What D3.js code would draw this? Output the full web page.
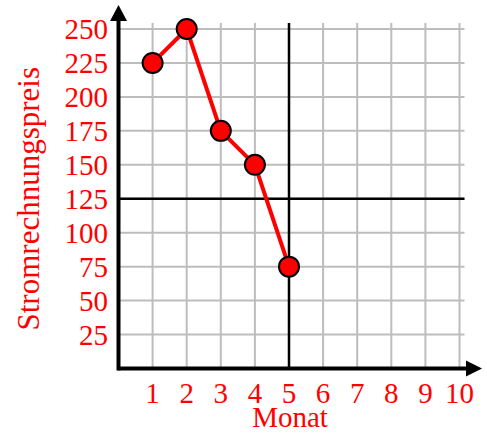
<!DOCTYPE html>
<html><head><meta charset="utf-8">
<script src="https://cdn.jsdelivr.net/npm/d3@7"></script>
<style>body{margin:0;background:#fff}</style>
</head><body>
<svg id="c" width="487" height="436"></svg>
<script>
const months = [1, 2, 3, 4, 5];
const prices = [225, 250, 175, 150, 75];
const xTicks = [1,2,3,4,5,6,7,8,9,10];
const yTicks = [25,50,75,100,125,150,175,200,225,250];
const xLabel = "Monat";
const yLabel = "Stromrechnungspreis";
const refX = 5, refY = 125;

const svg = d3.select("#c");
const x = d3.scaleLinear().domain([0, 10]).range([118.5, 459.5]);
const y = d3.scaleLinear().domain([0, 250]).range([368.5, 29]);
const font = "'Liberation Serif','Times New Roman',serif";

const g = svg.append("g");
// grid
g.selectAll(".vg").data(xTicks).join("line")
  .attr("x1", d => x(d)).attr("x2", d => x(d))
  .attr("y1", y(250) - 6).attr("y2", y(0))
  .attr("stroke", "#bdbdbd").attr("stroke-width", 2);
g.selectAll(".hg").data(yTicks).join("line")
  .attr("x1", x(0)).attr("x2", x(10) + 5)
  .attr("y1", d => y(d)).attr("y2", d => y(d))
  .attr("stroke", "#bdbdbd").attr("stroke-width", 2);
// reference lines
g.append("line").attr("x1", x(refX)).attr("x2", x(refX)).attr("y1", y(250) - 6).attr("y2", y(0))
  .attr("stroke", "#000").attr("stroke-width", 2.5);
g.append("line").attr("x1", x(0)).attr("x2", x(10) + 5).attr("y1", y(refY)).attr("y2", y(refY))
  .attr("stroke", "#000").attr("stroke-width", 2.5);

// axes with arrows
g.append("line").attr("x1", x(0)).attr("x2", 468).attr("y1", y(0)).attr("y2", y(0))
  .attr("stroke", "#000").attr("stroke-width", 4);
g.append("line").attr("x1", x(0)).attr("x2", x(0)).attr("y1", y(0) + 2).attr("y2", 18)
  .attr("stroke", "#000").attr("stroke-width", 4);
g.append("path").attr("d", `M482,${y(0)} L466,${y(0)-8} L466,${y(0)+8} Z`).attr("fill", "#000");
g.append("path").attr("d", `M${x(0)},5 L${x(0)-8.5},21 L${x(0)+8.5},21 Z`).attr("fill", "#000");

// tick labels
g.selectAll(".xt").data(xTicks).join("text")
  .attr("x", d => x(d)).attr("y", 403)
  .attr("text-anchor", "middle").attr("fill", "red")
  .style("font-family", font).style("font-size", "29px")
  .text(d => d);
g.selectAll(".yt").data(yTicks).join("text")
  .attr("x", 108).attr("y", d => y(d) + 10)
  .attr("text-anchor", "end").attr("fill", "red")
  .style("font-family", font).style("font-size", "29px")
  .text(d => d);

// axis titles
g.append("text").attr("x", 290).attr("y", 427).attr("text-anchor", "middle")
  .attr("fill", "red").style("font-family", font).style("font-size", "29px").text(xLabel);
g.append("text").attr("transform", `translate(39,${y(125)}) rotate(-90)`).attr("text-anchor", "middle")
  .attr("fill", "red").style("font-family", font).style("font-size", "31px").text(yLabel);

// data line and points
const data = months.map((m, i) => ({m, p: prices[i]}));
g.append("path").datum(data)
  .attr("d", d3.line().x(d => x(d.m)).y(d => y(d.p)))
  .attr("fill", "none").attr("stroke", "red").attr("stroke-width", 4);
g.selectAll(".pt").data(data).join("circle")
  .attr("cx", d => x(d.m)).attr("cy", d => y(d.p)).attr("r", 10)
  .attr("fill", "red").attr("stroke", "#000").attr("stroke-width", 2);
</script>
</body></html>
